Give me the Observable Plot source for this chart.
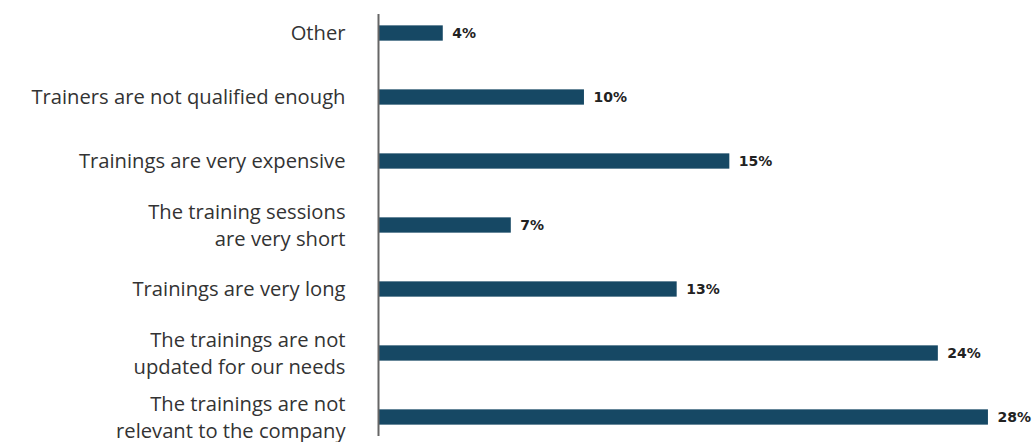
<!DOCTYPE html>
<html>
<head>
<meta charset="utf-8">
<script src="https://cdn.jsdelivr.net/npm/d3@7"></script>
<script src="https://cdn.jsdelivr.net/npm/@observablehq/plot@0.6"></script>
<style>
  html, body { margin: 0; padding: 0; background: #fff; }
  #chart svg { display: block; }
</style>
</head>
<body>
<div id="chart"></div>
<script>
// Categories, top to bottom
const categories = [
  "Other",
  "Trainers are not qualified enough",
  "Trainings are very expensive",
  "The training sessions\nare very short",
  "Trainings are very long",
  "The trainings are not\nupdated for our needs",
  "The trainings are not\nrelevant to the company"
];
// Bar lengths (percent)
const values = [2.78, 8.84, 15.08, 5.70, 12.82, 24.03, 26.18];
// Value labels as printed
const valueLabels = ["4%", "10%", "15%", "7%", "13%", "24%", "28%"];

const data = categories.map((c, i) => ({category: c, value: values[i], label: valueLabels[i]}));

const chart = Plot.plot({
  width: 1035,
  height: 442,
  marginLeft: 378,
  marginRight: 0,
  marginTop: 14,
  marginBottom: 6,
  style: {fontFamily: "'Open Sans', 'DejaVu Sans', sans-serif", background: "#fff"},
  x: {domain: [0, 28.2], axis: null},
  y: {domain: categories, paddingInner: 0.761, paddingOuter: 0.1775, round: false, label: null},
  marks: [
    Plot.axisY({
      tickSize: 0,
      tickPadding: 33,
      fontSize: 20.2,
      lineHeight: 1.37,
      dy: -2,
      fill: "#333",
      fontWeight: 400,
      label: null
    }),
    Plot.barX(data, {x: "value", y: "category", fill: "#164864"}),
    Plot.text(data, {
      x: "value", y: "category", text: "label",
      textAnchor: "start", dx: 9,
      fontSize: 14, fontWeight: "bold", fill: "#222",
      fontFamily: "'DejaVu Sans', sans-serif"
    }),
    Plot.ruleX([0], {stroke: "#666", strokeWidth: 2})
  ]
});
document.getElementById("chart").appendChild(chart);
</script>
</body>
</html>
